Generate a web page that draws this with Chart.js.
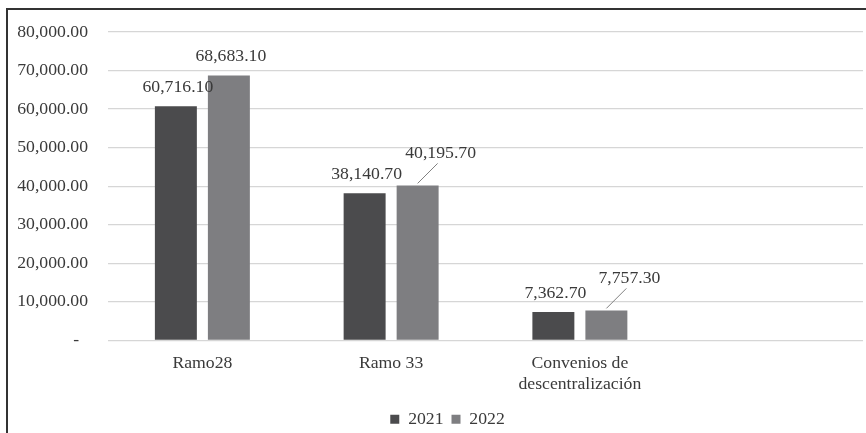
<!DOCTYPE html>
<html>
<head>
<meta charset="utf-8">
<script src="https://cdn.jsdelivr.net/npm/chart.js@4/dist/chart.umd.min.js"></script>
<style>
  html, body { margin: 0; padding: 0; background: #fff; }
  #frame {
    position: absolute; left: 6px; top: 8px; width: 860px; height: 425px;
    border-left: 2px solid #333; border-top: 2px solid #333; box-sizing: border-box;
  }
  #wrap { position: absolute; left: 8px; top: 10px; width: 858px; height: 423px; }
</style>
</head>
<body>
<div id="frame"></div>
<div id="wrap"><canvas id="c" width="858" height="423"></canvas></div>
<script>
// Categories (last slot is left empty on purpose)
const categories = ['Ramo28', 'Ramo 33', ['Convenios de', 'descentralización'], ''];
// Series values
const seriesNames = ['2021', '2022'];
const values2021 = [60716.10, 38140.70, 7362.70, null];
const values2022 = [68683.10, 40195.70, 7757.30, null];
// Y-axis ticks
const yTicks = [0, 10000, 20000, 30000, 40000, 50000, 60000, 70000, 80000];

const FONT_FAMILY = '"Liberation Serif", "Times New Roman", serif';
const FONT_SIZE = 17.7;
const TEXT_COLOR = '#3a3a3a';
const COLORS = ['#4b4b4d', '#7e7e81'];

// which bars get their value label pulled out with a leader line
const calloutBars = { 1: [1, 2] };

function fmt(v) {
  return v.toLocaleString('en-US', { minimumFractionDigits: 2, maximumFractionDigits: 2 });
}

const valueLabels = {
  id: 'valueLabels',
  afterDatasetsDraw(chart) {
    const ctx = chart.ctx;
    ctx.save();
    ctx.font = FONT_SIZE + 'px ' + FONT_FAMILY;
    ctx.fillStyle = TEXT_COLOR;
    ctx.textAlign = 'center';
    ctx.textBaseline = 'middle';
    chart.data.datasets.forEach((ds, di) => {
      const meta = chart.getDatasetMeta(di);
      meta.data.forEach((bar, i) => {
        const v = ds.data[i];
        if (v == null) return;
        let tx = bar.x + 2, ty = bar.y - 19;
        if ((calloutBars[di] || []).includes(i)) {
          ctx.strokeStyle = '#808080';
          ctx.lineWidth = 1;
          ctx.beginPath();
          ctx.moveTo(bar.x, bar.y - 2);
          ctx.lineTo(bar.x + 20, bar.y - 22);
          ctx.stroke();
          tx = bar.x + 23;
          ty = bar.y - 32.5;
        }
        ctx.fillText(fmt(v), tx, ty);
      });
    });
    ctx.restore();
  }
};

// nudge the legend box a little right and down
const legendShift = {
  id: 'legendShift',
  afterLayout(chart) {
    const lg = chart.legend;
    if (!lg) return;
    lg.left += 12; lg.right += 12;
    lg.top += 5; lg.bottom += 5;
  }
};

new Chart(document.getElementById('c'), {
  type: 'bar',
  data: {
    labels: categories,
    datasets: [
      { label: seriesNames[0], data: values2021, backgroundColor: COLORS[0] },
      { label: seriesNames[1], data: values2022, backgroundColor: COLORS[1] }
    ]
  },
  options: {
    responsive: false,
    animation: false,
    devicePixelRatio: 1,
    categoryPercentage: 0.5616,
    barPercentage: 0.792,
    layout: { padding: { left: 0, right: 3, top: 22, bottom: 0 } },
    plugins: {
      tooltip: { enabled: false },
      legend: {
        position: 'bottom',
        labels: {
          boxWidth: 9,
          boxHeight: 9,
          padding: 8,
          color: TEXT_COLOR,
          font: { family: FONT_FAMILY, size: FONT_SIZE }
        }
      }
    },
    scales: {
      x: {
        grid: { display: false, drawTicks: false },
        border: { display: false },
        ticks: {
          color: TEXT_COLOR,
          padding: 12,
          maxRotation: 0,
          autoSkip: false,
          font: { family: FONT_FAMILY, size: FONT_SIZE, lineHeight: 1.2 }
        },
        afterFit(scale) { scale.height = 57; }
      },
      y: {
        min: 0,
        max: 80000,
        afterBuildTicks(scale) { scale.ticks = yTicks.map(v => ({ value: v })); },
        grid: { color: '#d6d6d6', lineWidth: 1.3, drawTicks: false },
        border: { display: false },
        ticks: {
          color: TEXT_COLOR,
          padding: 20,
          font: { family: FONT_FAMILY, size: FONT_SIZE },
          callback: v => (v === 0 ? '-  ' : fmt(v))
        },
        afterFit(scale) {
          scale.width = 100;
          scale.paddingTop = 0;
          scale.paddingBottom = 0;
        }
      }
    }
  },
  plugins: [valueLabels, legendShift]
});
</script>
</body>
</html>
